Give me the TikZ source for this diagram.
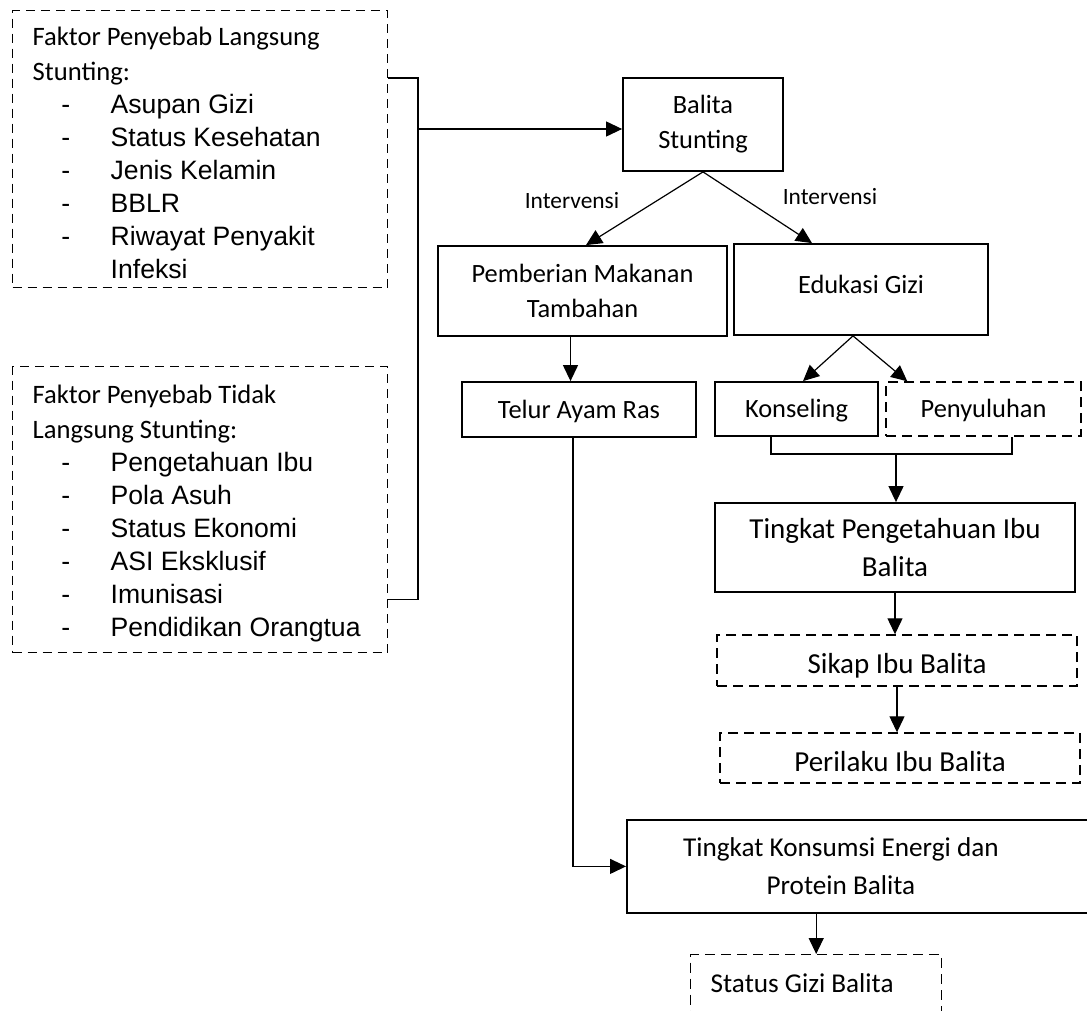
\documentclass[tikz,border=0pt]{standalone}
\usepackage{fontspec}
\setmainfont{Carlito}
\newfontfamily\arialfont{Liberation Sans}
\usetikzlibrary{arrows.meta,positioning}
\newcommand\butir[1]{\par\makebox[39pt][l]{\hspace*{14.3pt}-}#1}

\begin{document}
\begin{tikzpicture}[x=0.5pt, y=-0.5pt, >={Triangle[length=8pt,width=7.5pt]}]
  \tikzstyle{box}=[draw, line width=0.9pt, align=center, inner sep=0pt, font=\fontsize{13.2pt}{17.5pt}\selectfont]
  \tikzstyle{besar}=[font=\fontsize{14.5pt}{19pt}\selectfont]
  \tikzstyle{sedang}=[font=\fontsize{13.6pt}{19pt}\selectfont]
  \tikzstyle{satu}=[text height=8.5pt, text depth=0pt]
  \tikzstyle{putus}=[box, line width=0.7pt, dash pattern=on 5pt off 3pt]
  \tikzstyle{daftar}=[putus, dash pattern=on 4.5pt off 3pt, anchor=north west, align=flush left, text width=167.5pt, inner xsep=10pt, inner ysep=0pt, font=\fontsize{13.3pt}{16.5pt}\selectfont]
  \tikzstyle{lbl}=[inner sep=0pt, font=\fontsize{11.7pt}{14pt}\selectfont]
  \tikzstyle{garis}=[line width=0.6pt]
  \path[use as bounding box, clip] (0,0) rectangle (1087,1011);

  % faktor penyebab
  \node[daftar, text height=17.5pt, text depth=121pt] (langsung) at (12,10) {Faktor Penyebab Langsung\\[1pt]Stunting:\arialfont
    \butir{Asupan Gizi}\butir{Status Kesehatan}\butir{Jenis Kelamin}\butir{BBLR}\butir{Riwayat Penyakit}\par\hspace*{39pt}Infeksi};
  \node[daftar, text height=18.5pt, text depth=124.5pt] (tidak) at (12,366) {Faktor Penyebab Tidak\\[1pt]Langsung Stunting:\arialfont
    \butir{Pengetahuan Ibu}\butir{Pola Asuh}\butir{Status Ekonomi}\butir{ASI Eksklusif}\butir{Imunisasi}\butir{Pendidikan Orangtua}};

  % alur intervensi
  \node[box, minimum width=80pt, minimum height=46.5pt] (balita) at (703,124.5) {Balita\\Stunting};
  \node[box, minimum width=144.5pt, minimum height=45pt] (pmt) at (582.5,291) {Pemberian Makanan\\Tambahan};
  \node[box, satu, text depth=4.5pt, minimum width=127pt, minimum height=45.5pt] (edukasi) at (861,289.5) {Edukasi Gizi};
  \node[box, satu, minimum width=117pt, minimum height=27.5pt] (telur) at (579,409.5) {Telur Ayam Ras};
  \node[box, satu, minimum width=81.5pt, minimum height=27pt] (konseling) at (796.5,409) {Konseling};
  \node[putus, satu, minimum width=97.5pt, minimum height=27pt] (penyuluhan) at (983.5,409) {Penyuluhan};
  \node[box, besar, minimum width=180pt, minimum height=44.5pt] (pengetahuan) at (895,547.5) {Tingkat Pengetahuan Ibu\\Balita};
  \node[putus, besar, text height=12.5pt, text depth=0pt, minimum width=180pt, minimum height=25.5pt] (sikap) at (897,660.5) {Sikap Ibu Balita};
  \node[putus, besar, text height=13.3pt, text depth=0pt, minimum width=180pt, minimum height=25pt] (perilaku) at (900,758) {Perilaku Ibu Balita};
  \node[box, sedang, anchor=north west, align=flush left, text width=240pt, minimum height=46.5pt] (konsumsi) at (626,819) {\makebox[214pt]{Tingkat Konsumsi Energi dan}\\\makebox[214pt]{Protein Balita}};
  \node[putus, sedang, anchor=north west, align=flush left, text width=105.5pt, inner xsep=10pt, inner ysep=5pt, text height=14pt, text depth=25pt] (statusgizi) at (690,954) {Status Gizi Balita};

  \node[lbl] (intkiri) at (572,201) {Intervensi};
  \node[lbl] (intkanan) at (830,197) {Intervensi};

  % penghubung
  \coordinate (simpul) at (418,129);
  \draw[garis] ([yshift=-34pt]langsung.north east) -| (simpul) |- ([yshift=27pt]tidak.south east);
  \draw[garis,->] (simpul) -- (simpul -| balita.west);
  \draw[garis,->] (balita.south) -- ([xshift=1.75pt]pmt.north);
  \draw[garis,->] (balita.south) -- ([xshift=-24.5pt]edukasi.north);
  \draw[garis,->] ([xshift=-6pt]pmt.south) -- ([xshift=-6pt]pmt.south |- telur.north);
  \draw[garis,->] ([xshift=-4pt]edukasi.south) -- ([xshift=3.25pt]konseling.north);
  \draw[garis,->] ([xshift=-4pt]edukasi.south) -- ([xshift=11pt]penyuluhan.north west);
  \coordinate (gabung) at (896,454);
  \draw[garis] ([xshift=-12.75pt]konseling.south) |- (gabung) -| ([xshift=14.25pt]penyuluhan.south);
  \draw[garis,->] (gabung) -- (gabung |- pengetahuan.north);
  \draw[garis,->] (pengetahuan.south) -- (pengetahuan.south |- sikap.north);
  \draw[garis,->] (sikap.south) -- (sikap.south |- perilaku.north);
  \draw[garis,->] ([xshift=-3pt]telur.south) |- (konsumsi.west);
  \draw[garis,->] (statusgizi.north |- konsumsi.south) -- (statusgizi.north);
\end{tikzpicture}
\end{document}
